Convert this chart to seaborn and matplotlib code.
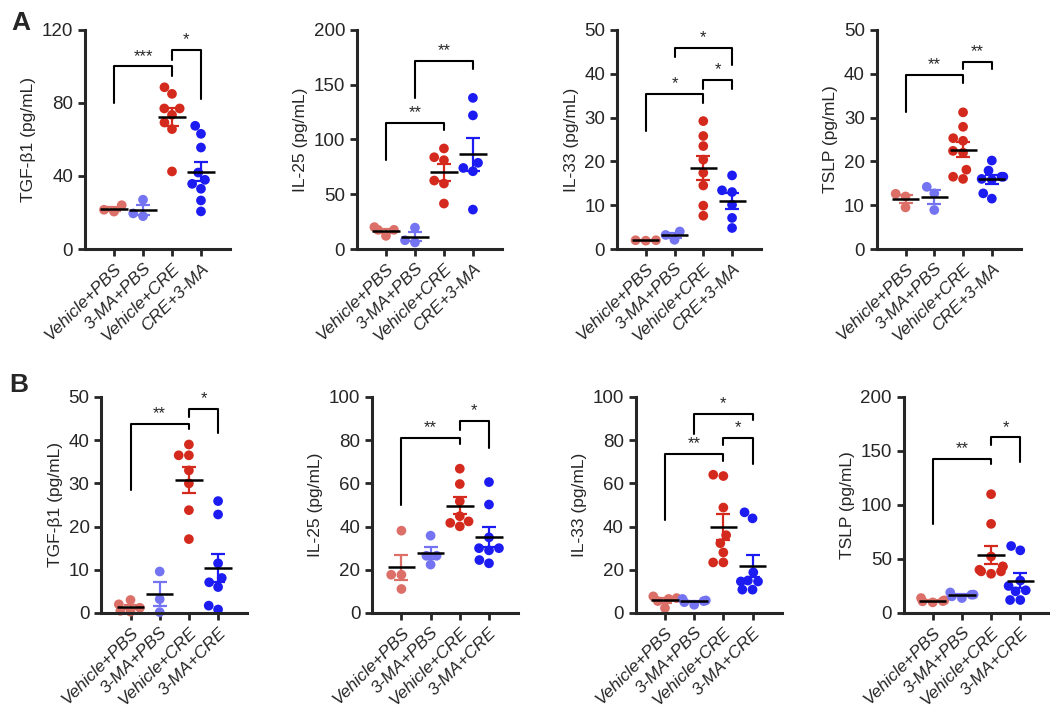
import matplotlib
matplotlib.use('Agg')
import matplotlib.pyplot as plt
import seaborn as sns
import numpy as np
import pandas as pd

# group names
groups_a = ['Vehicle+PBS', '3-MA+PBS', 'Vehicle+CRE', 'CRE+3-MA']
groups_b = ['Vehicle+PBS', '3-MA+PBS', 'Vehicle+CRE', '3-MA+CRE']
colors = ['#DC6F67', '#7474F2', '#D42A1E', '#1C1CF2']

# panel A values (pg/mL), one list per group
a_tgf = [[24, 20.5, 21.5], [27, 18, 19.5],
         [88.6, 85, 77, 77, 73.5, 69.3, 65.7, 42.5],
         [67.5, 63.1, 55.6, 41.9, 37.9, 35.7, 33, 26.6, 20.6]]
a_il25 = [[20, 17.5, 17.5, 12], [19.5, 8, 6],
          [91.8, 83.8, 81.1, 62.5, 59.8, 41.5],
          [138, 122, 78.7, 74, 71, 36]]
a_il33 = [[2, 1.9, 2], [4, 3.2, 2.1],
          [29.2, 25.8, 23.5, 20.4, 17.4, 14.5, 9.9, 7.6],
          [16.8, 13.4, 13, 10.1, 7.1, 4.8]]
a_tslp = [[12.6, 12, 9.5], [14.2, 12.7, 8.9],
          [31.2, 27.9, 24.7, 25.3, 22.4, 22, 18.1, 16, 16.5],
          [20.2, 17.9, 16.5, 16.5, 16, 15.8, 12.7, 11.5]]

# panel B values
b_tgf = [[2, 3, 1.2, 0.3, 0.5], [9.6, 3.2, 0.2],
         [39, 36.5, 36.5, 33, 30, 23.8, 17.1],
         [25.9, 22.8, 11.5, 8.1, 7.1, 6, 0.8, 1.7]]
b_il25 = [[38.1, 17.7, 17.7, 11.1], [35.8, 26.5, 26.5, 22.4],
          [66.8, 59.7, 51.7, 40.1, 42.4, 44.8, 41.7],
          [60.6, 50.2, 35, 30, 30, 29, 23, 24.5]]
b_il33 = [[2.3, 6.9, 7.7, 5.5, 6.5], [3.8, 6.5, 5, 5.8, 5.5],
          [63.4, 64, 48.8, 36, 32.3, 28, 23.4, 23.4],
          [46.6, 43.8, 15, 18.8, 14.6, 14.6, 10.8, 10.8]]
b_tslp = [[9.8, 13.8, 11.7, 10.8, 11], [15.4, 19, 13.8, 16.9, 17],
          [110, 82.5, 52.3, 43, 43, 40, 36.3, 38.5, 38.5],
          [62, 58, 30, 25, 21, 20, 12, 12]]

# significance brackets: (group i, group j, height, left leg end, right leg end, label)
sig_a_tgf = [(0, 2, 100, 80.2, 94.8, '***'), (2, 3, 109, 103.6, 82, '*')]
sig_a_il25 = [(0, 2, 115, 81, 108.5, '**'), (1, 3, 171.6, 137.5, 164, '**')]
sig_a_il33 = [(0, 2, 35.3, 26.9, 33.4, '*'), (2, 3, 38.6, 36.6, 36.6, '*'),
              (1, 3, 45.8, 43.9, 42.1, '*')]
sig_a_tslp = [(0, 2, 39.7, 31.2, 37.8, '**'), (2, 3, 42.8, 41.1, 41.1, '**')]
sig_b_tgf = [(0, 2, 43.8, 28.5, 42.5, '**'), (2, 3, 47.3, 45.4, 41.7, '*')]
sig_b_il25 = [(0, 2, 81, 50.2, 78.2, '**'), (2, 3, 88.7, 84.6, 76.4, '*')]
sig_b_il33 = [(0, 2, 73.5, 43, 70.5, '**'), (2, 3, 81.2, 77.7, 69.2, '*'),
              (1, 3, 92, 83, 89.2, '*')]
sig_b_tslp = [(0, 2, 143, 82.5, 138, '**'), (2, 3, 162.5, 155.4, 140, '*')]

sns.set_style('ticks')
plt.rcParams['font.family'] = ['Liberation Sans', 'DejaVu Sans']

fig = plt.figure(figsize=(10.5, 7.07), dpi=100)


def panel(rect, values, groups, ylabel, ymax, ystep, sigs):
    ax = fig.add_axes(rect)
    rows = []
    for g, vals in zip(groups, values):
        for v in vals:
            rows.append({'group': g, 'value': v})
    df = pd.DataFrame(rows)
    ax.set_xlim(-1, 4)
    ax.set_ylim(0, ymax)
    sns.swarmplot(data=df, x='group', y='value', hue='group', order=groups,
                  hue_order=groups, palette=colors, size=7, legend=False,
                  ax=ax, zorder=2)
    for c in ax.collections:
        c.set_clip_on(False)
    stats = df.groupby('group', sort=False)['value'].agg(['mean', 'sem'])
    for i, g in enumerate(groups):
        m, s = stats.loc[g, 'mean'], stats.loc[g, 'sem']
        ax.errorbar(i, m, yerr=s, color=colors[i], capsize=5, capthick=1.6,
                    elinewidth=1.6, fmt='none', zorder=3)
        ax.hlines(m, i - 0.47, i + 0.47, color='black', lw=1.8, zorder=4)
    for i, j, y, yl, yr, lab in sigs:
        ax.plot([i, i, j, j], [yl, y, y, yr], color='black', lw=1.5,
                clip_on=False, zorder=5)
        ax.annotate(lab, xy=((i + j) / 2, y), xytext=(0, 2),
                    textcoords='offset points', ha='center', va='bottom',
                    fontsize=12, annotation_clip=False)
    ax.set_xlim(-1, 4)
    ax.set_ylim(0, ymax)
    ax.set_yticks(np.arange(0, ymax + 0.1, ystep))
    ax.set_xticks(range(4))
    ax.set_xticklabels(groups, rotation=45, ha='right', rotation_mode='anchor',
                       fontstyle='italic', fontsize=12.5)
    ax.tick_params(axis='y', labelsize=13.5, width=2, length=5)
    ax.tick_params(axis='x', width=2, length=5)
    ax.set_xlabel('')
    ax.set_ylabel(ylabel, fontsize=12.5)
    sns.despine(ax=ax)
    for sp in ['left', 'bottom']:
        ax.spines[sp].set_linewidth(2.2)
    return ax


ha, hb = 0.3098, 0.3055
ya, yb = 0.6478, 0.133
panel([0.081, ya, 0.138, ha], a_tgf, groups_a, 'TGF-β1 (pg/mL)', 120, 40, sig_a_tgf)
panel([0.340, ya, 0.138, ha], a_il25, groups_a, 'IL-25 (pg/mL)', 200, 50, sig_a_il25)
panel([0.5876, ya, 0.137, ha], a_il33, groups_a, 'IL-33 (pg/mL)', 50, 10, sig_a_il33)
panel([0.835, ya, 0.137, ha], a_tslp, groups_a, 'TSLP (pg/mL)', 50, 10, sig_a_tslp)

panel([0.0965, yb, 0.139, hb], b_tgf, groups_b, 'TGF-β1 (pg/mL)', 50, 10, sig_b_tgf)
panel([0.3545, yb, 0.139, hb], b_il25, groups_b, 'IL-25 (pg/mL)', 100, 20, sig_b_il25)
panel([0.6055, yb, 0.139, hb], b_il33, groups_b, 'IL-33 (pg/mL)', 100, 20, sig_b_il33)
panel([0.8605, yb, 0.139, hb], b_tslp, groups_b, 'TSLP (pg/mL)', 200, 50, sig_b_tslp)

fig.text(0.011, 0.958, 'A', fontsize=19, fontweight='bold')
fig.text(0.009, 0.445, 'B', fontsize=19, fontweight='bold')

fig.savefig('out.png', dpi=100)
